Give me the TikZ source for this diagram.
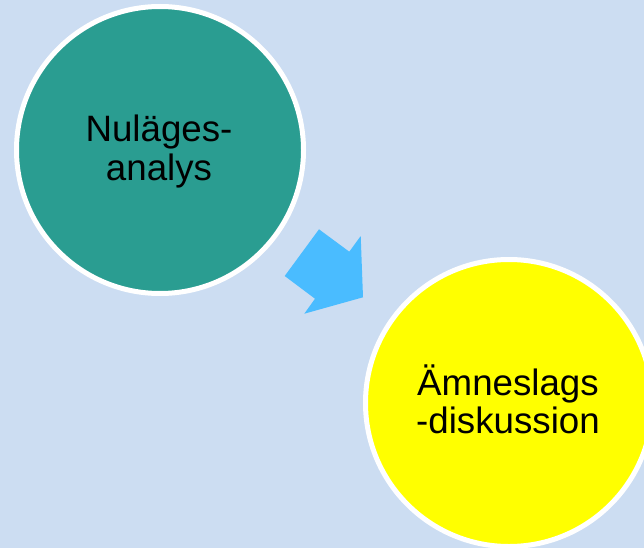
\documentclass[tikz,border=0pt]{standalone}
\usepackage{fontspec}
\setmainfont{Liberation Sans}
\definecolor{bgblue}{RGB}{204,221,242}
\definecolor{teal1}{RGB}{42,157,145}
\definecolor{arrowblue}{RGB}{74,188,255}
\definecolor{yell}{RGB}{255,255,0}
\begin{document}
\begin{tikzpicture}[x=1pt,y=-1pt,
  bubble/.style={circle,draw=white,line width=5pt,minimum size=287pt,inner sep=0pt},
  lbl/.style={anchor=base,inner sep=0pt,font=\fontsize{36.7pt}{38pt}\selectfont,text=black}]
\useasboundingbox (0,0) rectangle (644,548);
\clip (0,0) rectangle (644,548);
\fill[bgblue] (0,0) rectangle (644,548);
\node[bubble,fill=teal1] (c1) at (160,150) {};
\node[bubble,fill=yell] (c2) at (509,403) {};
\node[lbl] (t1a) at (159,142) {Nuläges-};
\node[lbl] (t1b) at (159,180) {analys};
\node[lbl] (t2a) at (508,395) {Ämneslags};
\node[lbl] (t2b) at (508,433) {-diskussion};
\fill[arrowblue] (284.7,276) -- (319,229.3) -- (349.3,251.7) -- (360.7,236) -- (363,297.3) -- (304.3,313.7) -- (315,298.7) -- cycle;
\end{tikzpicture}
\end{document}
